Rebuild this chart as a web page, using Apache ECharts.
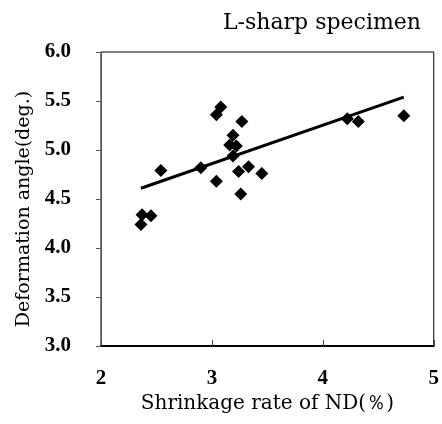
<!DOCTYPE html>
<html><head><meta charset="utf-8">
<script src="https://cdn.jsdelivr.net/npm/echarts@6/dist/echarts.min.js"></script>
<style>html,body{margin:0;padding:0;background:#fff}#c{width:442px;height:424px}</style>
</head><body><div id="c"></div>
<script>
const shrinkage = [2.36, 2.37, 2.45, 2.54, 2.90, 3.04, 3.08, 3.04, 3.27, 3.19, 3.16, 3.22, 3.19, 3.24, 3.33, 3.45, 3.26, 4.22, 4.32, 4.73];
const deformation = [4.24, 4.34, 4.33, 4.79, 4.82, 5.36, 5.44, 4.68, 5.29, 5.15, 5.05, 5.04, 4.94, 4.78, 4.83, 4.76, 4.55, 5.32, 5.29, 5.35];
const trendX = [2.36, 4.73];
const trendY = [4.61, 5.54];
const xTicks = [2, 3, 4, 5];
const yTicks = [3.0, 3.5, 4.0, 4.5, 5.0, 5.5, 6.0];
const titleText = 'L-sharp specimen';
const xName = 'Shrinkage rate of ND(％)';
const yName = 'Deformation angle(deg.)';

const serif = '"DejaVu Serif","Liberation Serif",serif';
const numFont = '"Liberation Serif","DejaVu Serif",serif';
const chart = echarts.init(document.getElementById('c'), null, {renderer: 'canvas'});
chart.setOption({
  animation: false,
  backgroundColor: '#fff',
  title: {text: titleText, right: 16, top: 7, textStyle: {fontFamily: serif, fontSize: 22, fontWeight: 'normal', color: '#000'}},
  grid: {left: 101, right: 1, top: 52, bottom: 78, show: true, borderColor: '#000', borderWidth: 1},
  xAxis: {
    type: 'value', min: xTicks[0], max: xTicks[xTicks.length - 1], interval: 1,
    name: xName, nameLocation: 'middle', nameGap: 47,
    nameTextStyle: {fontFamily: serif, fontSize: 20, color: '#000'},
    axisLine: {show: true, onZero: false, lineStyle: {color: '#000', width: 2}},
    axisTick: {show: true, inside: true, length: 6, lineStyle: {color: '#444'}},
    axisLabel: {fontFamily: numFont, fontSize: 21, fontWeight: 'bold', color: '#000', margin: 22},
    splitLine: {show: false}
  },
  yAxis: {
    type: 'value', min: yTicks[0], max: yTicks[yTicks.length - 1], interval: 0.5,
    name: yName, nameLocation: 'middle', nameGap: 67,
    nameTextStyle: {fontFamily: serif, fontSize: 19, color: '#000', padding: [0, 20, 0, 0]},
    axisLine: {show: true, onZero: false, lineStyle: {color: '#555', width: 1}},
    axisTick: {show: true, inside: false, length: 5, lineStyle: {color: '#555'}},
    axisLabel: {fontFamily: numFont, fontSize: 21, fontWeight: 'bold', color: '#000', margin: 30,
      formatter: v => v.toFixed(1)},
    splitLine: {show: false}
  },
  series: [
    {type: 'line', data: trendX.map((x, i) => [x, trendY[i]]), symbol: 'none',
     lineStyle: {color: '#000', width: 3}, z: 2},
    {type: 'scatter', data: shrinkage.map((x, i) => [x, deformation[i]]), symbol: 'diamond',
     symbolSize: 13, itemStyle: {color: '#000', opacity: 1}, z: 3}
  ]
});
</script></body></html>
